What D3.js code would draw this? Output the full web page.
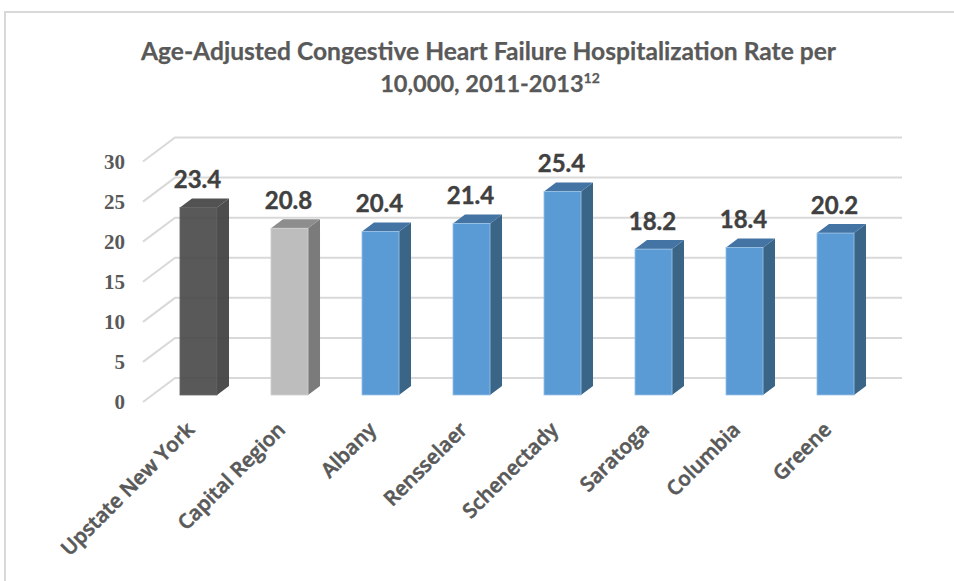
<!DOCTYPE html>
<html><head><meta charset="utf-8">
<script src="https://cdn.jsdelivr.net/npm/d3@7"></script>
<style>html,body{margin:0;padding:0;background:#fff}svg{display:block}</style>
</head><body><svg id="c" width="954" height="581"></svg>
<script>
const categories = ["Upstate New York","Capital Region","Albany","Rensselaer","Schenectady","Saratoga","Columbia","Greene"];
const values = [23.4,20.8,20.4,21.4,25.4,18.2,18.4,20.2];
const yTicks = [0,5,10,15,20,25,30];
const titleLines = ["Age-Adjusted Congestive Heart Failure Hospitalization Rate per","10,000, 2011-2013"];
const titleSup = "12";
const palettes = [
  {front:"#4d4d4d",side:"#3f3f3f",top:"#454545",edge:"#5c5c5c"},
  {front:"#bdbdbd",side:"#7b7b7b",top:"#8d8d8d",edge:"#d0d0d0"},
  {front:"#5b9bd5",side:"#3a6587",top:"#4374a3",edge:"#9cc3e6"}
];
const colorIdx = [0,1,2,2,2,2,2,2];

const svg = d3.select("#c");
const W=954,H=581, dx=12, dy=9;
// frame
svg.append("path").attr("d",`M5,${H} V12 H${W}`).attr("fill","none").attr("stroke","#d9d9d9").attr("stroke-width",2);

const title = svg.append("text").attr("fill","#595959").attr("text-anchor","middle")
  .attr("font-family","Lato").attr("font-weight",700).attr("font-size",24.6)
  .attr("stroke","#595959").attr("stroke-width",0.25);
title.append("tspan").attr("x",488.5).attr("y",60).text(titleLines[0]);
title.append("tspan").attr("x",490).attr("y",92).attr("font-size",23.6).text(titleLines[1]);
title.append("tspan").attr("dy",-9).attr("font-size",14).text(titleSup);

const y = d3.scaleLinear().domain([0,30]).range([402,161.5]);   // front (axis) plane
const backDy = -24, backDx = 32;
const x = d3.scaleBand().domain(categories).range([153,881]).paddingInner(0.593).paddingOuter(0.2965);
const barBase = 395;
const yBar = v => y(v) - (y(0)-barBase);

// gridlines in the wall and floor
const grid = svg.append("g").attr("fill","none").attr("stroke","#d9d9d9").attr("stroke-width",2);
yTicks.forEach(t=>{
  grid.append("path").attr("d",`M143,${y(t)} L${143+backDx},${y(t)+backDy} H902`);
});

// axis labels through d3 axis
const ax = svg.append("g").attr("transform","translate(125,1)")
  .call(d3.axisLeft(y).tickValues(yTicks).tickSize(0).tickPadding(0));
ax.select(".domain").remove();
ax.selectAll("text").attr("font-family","Liberation Serif").attr("font-weight",700)
  .attr("font-size",21).attr("fill","#595959").attr("dy","0.28em").attr("dx",0);

// bars
const bars = svg.append("g").selectAll("g").data(categories).join("g");
bars.each(function(c,i){
  const g=d3.select(this), p=palettes[colorIdx[i]], x0=x(c), w=x.bandwidth(), yt=yBar(values[i]);
  const o = i===0?0.93:1;
  g.append("path").attr("d",`M${x0+w},${yt} l${dx},${-dy} V${barBase-dy} L${x0+w},${barBase} Z`).attr("fill",p.side).attr("opacity",o);
  g.append("path").attr("d",`M${x0},${yt} l${dx},${-dy} h${w} l${-dx},${dy} Z`).attr("fill",p.top).attr("opacity",o);
  g.append("rect").attr("x",x0).attr("y",yt).attr("width",w).attr("height",barBase-yt)
    .attr("fill",p.front).attr("opacity",o).attr("stroke",p.edge).attr("stroke-width",0.8);
});

// data labels
svg.append("g").selectAll("text").data(categories).join("text")
  .attr("x",c=>x(c)+x.bandwidth()/2-1)
  .attr("y",(c,i)=>yBar(values[i])-19)
  .attr("text-anchor","middle").attr("font-family","Lato").attr("font-weight",700)
  .attr("font-size",24).attr("fill","#404040").attr("stroke","#404040").attr("stroke-width",0.4)
  .text((c,i)=>values[i].toFixed(1));

// category labels
svg.append("g").selectAll("text").data(categories).join("text")
  .attr("transform",c=>`translate(${x(c)+x.bandwidth()/2-3},431) rotate(-45)`)
  .attr("text-anchor","end").attr("font-family","Open Sans").attr("font-weight",600)
  .attr("font-size",20.5).attr("fill","#595959").attr("stroke","#595959").attr("stroke-width",0.55).text(c=>c);
</script></body></html>
